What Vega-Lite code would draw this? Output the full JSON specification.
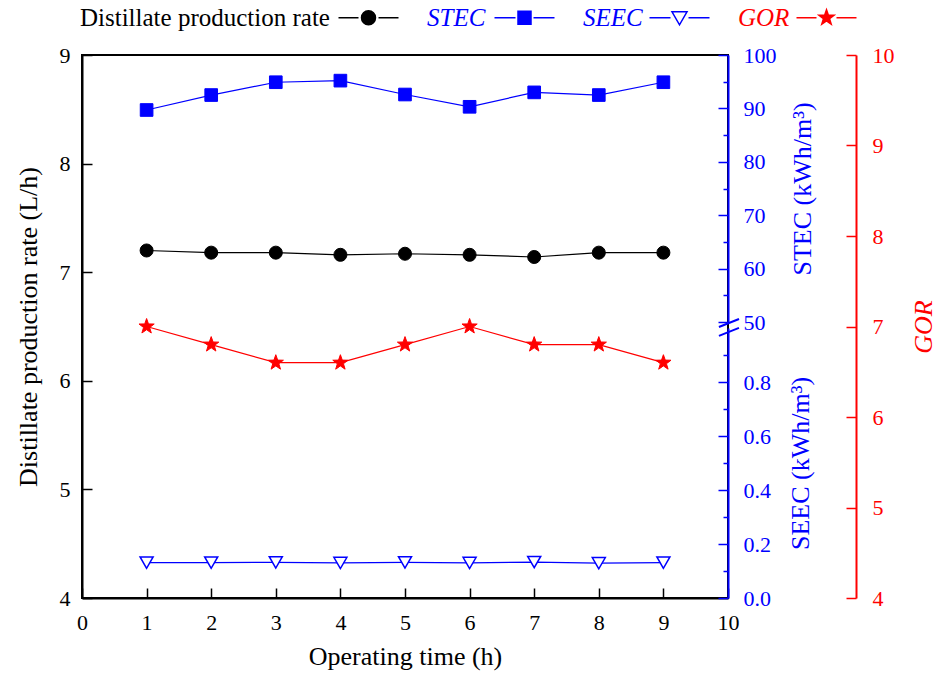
{
  "$schema": "https://vega.github.io/schema/vega-lite/v6.json",
  "width": 646,
  "height": 543,
  "autosize": {"type": "none"},
  "padding": {"left": 82, "top": 55, "right": 212, "bottom": 81},
  "background": "white",
  "datasets": {
    "d": [
      {"t": 1, "s": "Distillate production rate", "v": 7.20},
      {"t": 2, "s": "Distillate production rate", "v": 7.18},
      {"t": 3, "s": "Distillate production rate", "v": 7.18},
      {"t": 4, "s": "Distillate production rate", "v": 7.16},
      {"t": 5, "s": "Distillate production rate", "v": 7.17},
      {"t": 6, "s": "Distillate production rate", "v": 7.16},
      {"t": 7, "s": "Distillate production rate", "v": 7.14},
      {"t": 8, "s": "Distillate production rate", "v": 7.18},
      {"t": 9, "s": "Distillate production rate", "v": 7.18},
      {"t": 1, "s": "STEC", "v": 89.7},
      {"t": 2, "s": "STEC", "v": 92.5},
      {"t": 3, "s": "STEC", "v": 94.9},
      {"t": 4, "s": "STEC", "v": 95.2},
      {"t": 5, "s": "STEC", "v": 92.6},
      {"t": 6, "s": "STEC", "v": 90.3},
      {"t": 7, "s": "STEC", "v": 93.0},
      {"t": 8, "s": "STEC", "v": 92.5},
      {"t": 9, "s": "STEC", "v": 94.9},
      {"t": 1, "s": "SEEC", "v": 0.131},
      {"t": 2, "s": "SEEC", "v": 0.131},
      {"t": 3, "s": "SEEC", "v": 0.132},
      {"t": 4, "s": "SEEC", "v": 0.130},
      {"t": 5, "s": "SEEC", "v": 0.132},
      {"t": 6, "s": "SEEC", "v": 0.130},
      {"t": 7, "s": "SEEC", "v": 0.133},
      {"t": 8, "s": "SEEC", "v": 0.129},
      {"t": 9, "s": "SEEC", "v": 0.131},
      {"t": 1, "s": "GOR", "v": 7.0},
      {"t": 2, "s": "GOR", "v": 6.8},
      {"t": 3, "s": "GOR", "v": 6.6},
      {"t": 4, "s": "GOR", "v": 6.6},
      {"t": 5, "s": "GOR", "v": 6.8},
      {"t": 6, "s": "GOR", "v": 7.0},
      {"t": 7, "s": "GOR", "v": 6.8},
      {"t": 8, "s": "GOR", "v": 6.8},
      {"t": 9, "s": "GOR", "v": 6.6}
    ],
    "brk": [
      {"t": 9.86, "t2": 10.17, "v": 49.06, "v2": 50.56},
      {"t": 9.86, "t2": 10.17, "v": 47.4, "v2": 48.9}
    ]
  },
  "data": {"name": "d"},
  "encoding": {
    "x": {
      "field": "t",
      "type": "quantitative",
      "title": "Operating time (h)",
      "scale": {"domain": [0, 10], "nice": false, "zero": false},
      "axis": {
        "orient": "bottom",
        "values": [0, 0.5, 1, 1.5, 2, 2.5, 3, 3.5, 4, 4.5, 5, 5.5, 6, 6.5, 7, 7.5, 8, 8.5, 9, 9.5, 10],
        "format": "d",
        "labelExpr": "datum.value % 1 === 0 ? datum.label : ''",
        "tickSize": -10,
        "tickDash": {"condition": {"test": "datum.value % 1 !== 0", "value": [5, 20]}, "value": []},
        "labelPadding": 24,
        "titlePadding": 10,
        "domainColor": "black",
        "tickColor": "black",
        "labelColor": "black",
        "titleColor": "black"
      }
    }
  },
  "layer": [
    {
      "transform": [{"filter": "datum.s === 'Distillate production rate'"}],
      "encoding": {
        "y": {
          "field": "v",
          "type": "quantitative",
          "title": "Distillate production rate (L/h)",
          "scale": {"domain": [4, 9], "nice": false, "zero": false},
          "axis": {
            "orient": "left",
            "values": [4, 4.5, 5, 5.5, 6, 6.5, 7, 7.5, 8, 8.5, 9],
            "format": "d",
            "labelExpr": "datum.value % 1 === 0 ? datum.label : ''",
            "tickSize": -10,
            "tickDash": {"condition": {"test": "datum.value % 1 !== 0", "value": [5, 20]}, "value": []},
            "labelPadding": 22,
            "titlePadding": 18,
            "domainColor": "black",
            "tickColor": "black",
            "labelColor": "black",
            "titleColor": "black"
          }
        }
      },
      "layer": [
        {"mark": {"type": "line", "color": "black", "strokeWidth": 1.2}},
        {
          "mark": {"type": "point", "shape": "circle", "filled": true, "size": 170, "strokeWidth": 1, "opacity": 1},
          "encoding": {
            "fill": {
              "field": "s",
              "type": "nominal",
              "scale": {"domain": ["Distillate production rate", "STEC", "SEEC", "GOR"], "range": ["black", "blue", "white", "red"]},
              "legend": {
                "orient": "none",
                "legendX": -27,
                "legendY": -50,
                "direction": "horizontal",
                "title": null,
                "padding": 0,
                "symbolSize": 4,
                "symbolStrokeWidth": 1.5,
                "symbolOpacity": 1,
                "symbolType": {"expr": "datum.value === 'Distillate production rate' ? 'M271,0H291M311,0H331M294,0A7,7 0 1,0 308,0A7,7 0 1,0 294,0Z' : datum.value === 'STEC' ? 'M80,0H101M119,0H140M103.5,-6.5H116.5V6.5H103.5Z' : datum.value === 'SEEC' ? 'M79,0H100M118,0H139M101.5,-6L116.5,-6L109,7Z' : 'M71,0H91M111,0H131M101,-8L102.88,-2.59L108.61,-2.47L104.04,0.99L105.7,6.47L101,3.2L96.3,6.47L97.96,0.99L93.39,-2.47L99.12,-2.59Z'"},
                "labelOffset": 0,
                "labelFont": "Liberation Serif",
                "labelFontSize": 25,
                "labelLimit": 0,
                "labelColor": {"expr": "datum.value === 'Distillate production rate' ? 'black' : datum.value === 'GOR' ? 'red' : 'blue'"},
                "labelFontStyle": {"expr": "datum.value === 'Distillate production rate' ? 'normal' : 'italic'"},
                "columnPadding": -6
              }
            },
            "stroke": {
              "field": "s",
              "type": "nominal",
              "scale": {"domain": ["Distillate production rate", "STEC", "SEEC", "GOR"], "range": ["black", "blue", "blue", "red"]},
              "legend": {
                "orient": "none",
                "legendX": -27,
                "legendY": -50,
                "direction": "horizontal",
                "title": null,
                "padding": 0,
                "symbolSize": 4,
                "symbolStrokeWidth": 1.5,
                "symbolOpacity": 1,
                "symbolType": {"expr": "datum.value === 'Distillate production rate' ? 'M271,0H291M311,0H331M294,0A7,7 0 1,0 308,0A7,7 0 1,0 294,0Z' : datum.value === 'STEC' ? 'M80,0H101M119,0H140M103.5,-6.5H116.5V6.5H103.5Z' : datum.value === 'SEEC' ? 'M79,0H100M118,0H139M101.5,-6L116.5,-6L109,7Z' : 'M71,0H91M111,0H131M101,-8L102.88,-2.59L108.61,-2.47L104.04,0.99L105.7,6.47L101,3.2L96.3,6.47L97.96,0.99L93.39,-2.47L99.12,-2.59Z'"},
                "labelOffset": 0,
                "labelFont": "Liberation Serif",
                "labelFontSize": 25,
                "labelLimit": 0,
                "labelColor": {"expr": "datum.value === 'Distillate production rate' ? 'black' : datum.value === 'GOR' ? 'red' : 'blue'"},
                "labelFontStyle": {"expr": "datum.value === 'Distillate production rate' ? 'normal' : 'italic'"},
                "columnPadding": -6
              }
            }
          }
        }
      ]
    },
    {
      "transform": [{"filter": "datum.s === 'STEC'"}],
      "encoding": {
        "y": {
          "field": "v",
          "type": "quantitative",
          "title": "STEC (kWh/m³)",
          "scale": {"domain": [50, 100], "range": [267, 0], "nice": false, "zero": false},
          "axis": {
            "orient": "right",
            "values": [50, 55, 60, 65, 70, 75, 80, 85, 90, 95, 100],
            "format": "d",
            "labelExpr": "datum.value % 10 === 0 ? datum.label : ''",
            "tickSize": -10,
            "tickDash": {"condition": {"test": "datum.value % 10 !== 0", "value": [5, 20]}, "value": []},
            "labelPadding": 25,
            "titlePadding": 13,
            "titleAngle": 270,
            "titleBaseline": "top",
            "domainColor": "blue",
            "tickColor": "blue",
            "labelColor": "blue",
            "titleColor": "blue"
          }
        }
      },
      "layer": [
        {"mark": {"type": "line", "color": "blue", "strokeWidth": 1.2}},
        {
          "mark": {"type": "point", "shape": "square", "filled": true, "size": 160, "strokeWidth": 1, "opacity": 1},
          "encoding": {"fill": {"field": "s", "type": "nominal"}, "stroke": {"field": "s", "type": "nominal"}}
        },
        {
          "data": {"name": "brk"},
          "mark": {"type": "rule", "color": "blue", "strokeWidth": 2},
          "encoding": {"x2": {"field": "t2"}, "y2": {"field": "v2"}}
        }
      ]
    },
    {
      "transform": [{"filter": "datum.s === 'SEEC'"}],
      "encoding": {
        "y": {
          "field": "v",
          "type": "quantitative",
          "title": "SEEC (kWh/m³)",
          "scale": {"domain": [0, 1], "range": [543, 273], "nice": false, "zero": false},
          "axis": {
            "orient": "right",
            "values": [0, 0.1, 0.2, 0.3, 0.4, 0.5, 0.6, 0.7, 0.8, 0.9],
            "format": ".1f",
            "labelExpr": "round(datum.value * 10) % 2 === 0 ? datum.label : ''",
            "tickSize": -10,
            "tickDash": {"condition": {"test": "round(datum.value * 10) % 2 !== 0", "value": [5, 20]}, "value": []},
            "labelPadding": 25,
            "titlePadding": 17,
            "titleAngle": 270,
            "titleBaseline": "top",
            "domainColor": "blue",
            "tickColor": "blue",
            "labelColor": "blue",
            "titleColor": "blue"
          }
        }
      },
      "layer": [
        {"mark": {"type": "line", "color": "blue", "strokeWidth": 1.2}},
        {
          "mark": {"type": "point", "shape": "triangle-down", "filled": true, "size": 170, "strokeWidth": 1.5, "opacity": 1},
          "encoding": {"fill": {"field": "s", "type": "nominal"}, "stroke": {"field": "s", "type": "nominal"}}
        }
      ]
    },
    {
      "transform": [{"filter": "datum.s === 'GOR'"}],
      "encoding": {
        "y": {
          "field": "v",
          "type": "quantitative",
          "title": "GOR",
          "scale": {"domain": [4, 10], "nice": false, "zero": false},
          "axis": {
            "orient": "right",
            "offset": 128,
            "values": [4, 4.5, 5, 5.5, 6, 6.5, 7, 7.5, 8, 8.5, 9, 9.5, 10],
            "format": "d",
            "labelExpr": "datum.value % 1 === 0 ? datum.label : ''",
            "tickSize": -10,
            "tickDash": {"condition": {"test": "datum.value % 1 !== 0", "value": [5, 20]}, "value": []},
            "labelPadding": 26,
            "titlePadding": 16,
            "titleAngle": 270,
            "titleBaseline": "top",
            "titleFontStyle": "italic",
            "domainColor": "red",
            "tickColor": "red",
            "labelColor": "red",
            "titleColor": "red"
          }
        }
      },
      "layer": [
        {"mark": {"type": "line", "color": "red", "strokeWidth": 1.2}},
        {
          "mark": {"type": "point", "shape": "M0,-1L0.235,-0.324L0.951,-0.309L0.38,0.124L0.588,0.809L0,0.4L-0.588,0.809L-0.38,0.124L-0.951,-0.309L-0.235,-0.324Z", "filled": true, "size": 256, "strokeWidth": 1, "opacity": 1},
          "encoding": {"fill": {"field": "s", "type": "nominal"}, "stroke": {"field": "s", "type": "nominal"}}
        }
      ]
    }
  ],
  "resolve": {"scale": {"y": "independent"}},
  "config": {
    "font": "Liberation Serif",
    "view": {"stroke": "black", "strokeWidth": 2},
    "axis": {
      "grid": false,
      "labelFont": "Liberation Serif",
      "titleFont": "Liberation Serif",
      "labelFontSize": 22,
      "titleFontSize": 26,
      "titleFontWeight": "normal",
      "domainWidth": 2,
      "tickWidth": 1.5,
      "labelOverlap": false,
      "labelFlush": false,
      "labelBound": false
    }
  }
}
